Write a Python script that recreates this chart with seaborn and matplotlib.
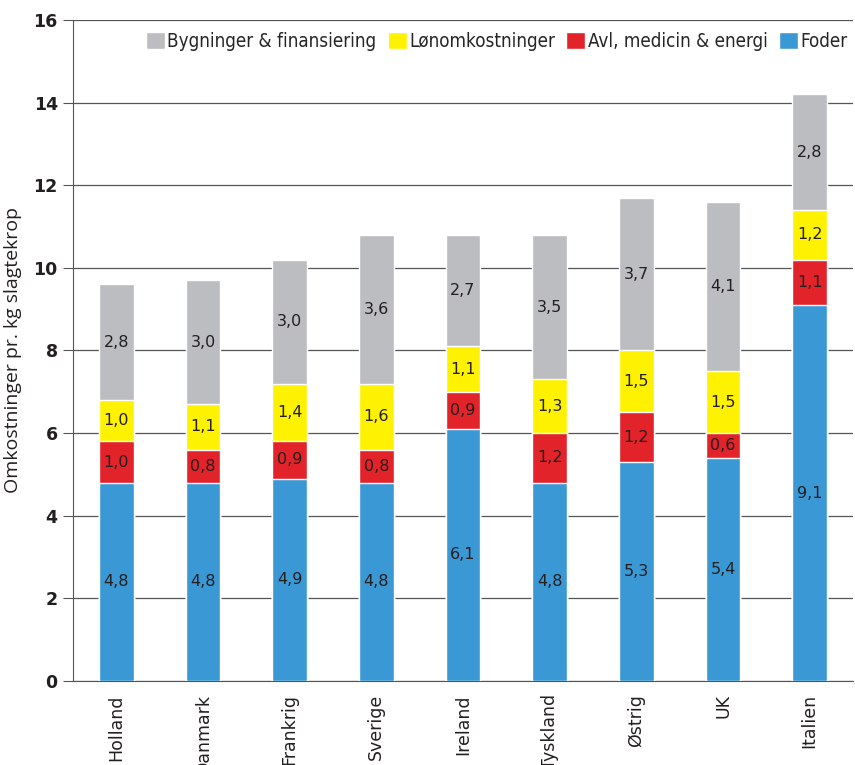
import pandas as pd
import matplotlib.pyplot as plt
import seaborn as sns

# data
lande = ["Holland", "Danmark", "Frankrig", "Sverige", "Ireland", "Tyskland", "Østrig", "UK", "Italien"]
foder = [4.8, 4.8, 4.9, 4.8, 6.1, 4.8, 5.3, 5.4, 9.1]
avl = [1.0, 0.8, 0.9, 0.8, 0.9, 1.2, 1.2, 0.6, 1.1]
lon = [1.0, 1.1, 1.4, 1.6, 1.1, 1.3, 1.5, 1.5, 1.2]
bygning = [2.8, 3.0, 3.0, 3.6, 2.7, 3.5, 3.7, 4.1, 2.8]

series = ["Foder", "Avl, medicin & energi", "Lønomkostninger", "Bygninger & finansiering"]
colors = ["#3A98D5", "#E3232A", "#FFF200", "#BCBDC1"]

df = pd.DataFrame({"land": lande, series[0]: foder, series[1]: avl,
                   series[2]: lon, series[3]: bygning})
cum = df[series].cumsum(axis=1)

sns.set_style("white")
plt.rcParams['font.family'] = ['DejaVu Sans']

fig = plt.figure(figsize=(8.55, 7.65), dpi=100)
ax = fig.add_axes([0.0854, 0.1098, 0.9123, 0.8641])

# stacked bars: draw cumulative totals from top down
for s, c in reversed(list(zip(series, colors))):
    sns.barplot(x=df["land"], y=cum[s], color=c, width=0.4, saturation=1,
                ax=ax, label=s, zorder=3)

# segment labels
for i in range(len(lande)):
    base = 0
    for s in series:
        v = df.loc[i, s]
        ax.text(i, base + v / 2, f"{v:.1f}".replace(".", ","), ha="center", va="center",
                fontsize=11.5, color="#231F20", zorder=4)
        base += v

ax.set_ylim(0, 16)
ax.set_yticks(range(0, 17, 2))
ax.set_xlim(-0.5, len(lande) - 0.5)
ax.yaxis.grid(True, color="#555555", linewidth=0.9, zorder=0)
ax.set_axisbelow(True)
for side in ["top", "right"]:
    ax.spines[side].set_visible(False)
ax.spines["left"].set_color("#555555")
ax.spines["bottom"].set_color("#555555")
ax.tick_params(axis="y", left=True, length=7, color="#555555", labelsize=12.5, pad=4)
ax.tick_params(axis="x", bottom=False, labelsize=12.5, labelrotation=90, pad=6)
for lbl in ax.get_yticklabels():
    lbl.set_fontweight("bold")
    lbl.set_color("#231F20")
for lbl in ax.get_xticklabels():
    lbl.set_va("top")
    lbl.set_color("#231F20")
ax.set_xlabel("")
ax.set_ylabel("Omkostninger pr. kg slagtekrop", fontsize=14, color="#231F20",
              labelpad=8, family=["Open Sans", "DejaVu Sans"])

handles, labels = ax.get_legend_handles_labels()
ax.legend(handles, labels, loc="upper right", ncol=4, frameon=False,
          bbox_to_anchor=(1.015, 1.008), handlelength=1.0, handleheight=1.0,
          handletextpad=0.15, columnspacing=0.6,
          prop={"family": "DejaVu Sans", "stretch": "condensed", "size": 13.5})

fig.savefig("out.png", dpi=100)
